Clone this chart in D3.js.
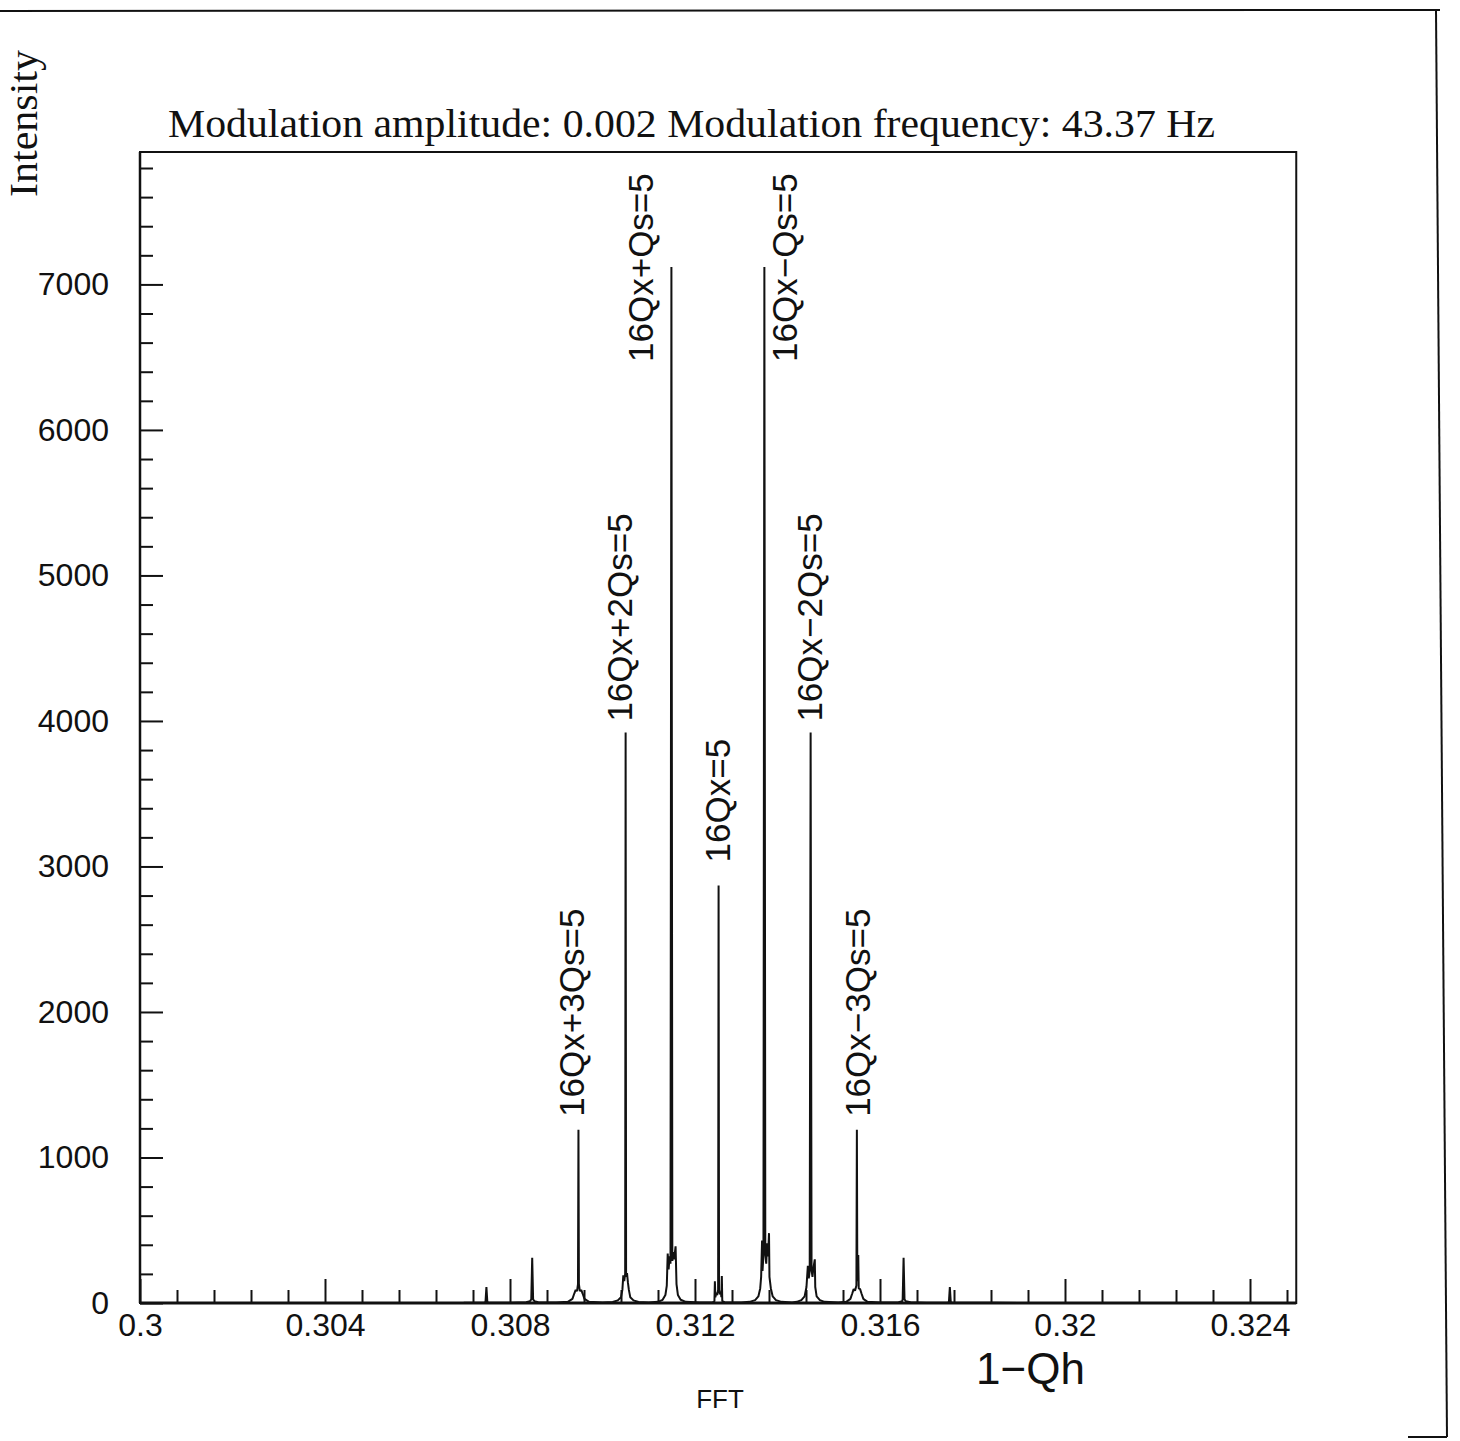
<!DOCTYPE html>
<html>
<head>
<meta charset="utf-8">
<script src="https://cdn.jsdelivr.net/npm/d3@7"></script>
<style>
  html, body { margin: 0; padding: 0; background: #fff; }
  svg { display: block; }
  .tick text { font-family: "Liberation Sans", Arial, sans-serif; font-size: 32px; fill: #111; }
  .tick line { stroke: #111; stroke-width: 2; }
</style>
</head>
<body>
<svg id="chart" width="1460" height="1441"></svg>
<script>
// Tick positions and their printed labels
const xMajorTicks = [0.300, 0.304, 0.308, 0.312, 0.316, 0.320, 0.324];
const xTickLabels = ["0.3", "0.304", "0.308", "0.312", "0.316", "0.32", "0.324"];
const yMajorTicks = [0, 1000, 2000, 3000, 4000, 5000, 6000, 7000];
const yTickLabels = ["0", "1000", "2000", "3000", "4000", "5000", "6000", "7000"];

// FFT spectrum of the horizontal tune, [1-Qh, intensity], split by sideband
const bandFarLeft = [[0.3000, 0], [0.3060, 0], [0.3070, 1]];
const bandP5 = [[0.30744, 2], [0.30747, 6], [0.30749, 110], [0.30751, 6], [0.30754, 2]];
const bandP4 = [[0.3080, 2], [0.30835, 5], [0.30843, 12], [0.30846, 25], [0.30848, 310],
  [0.30850, 25], [0.30853, 12], [0.30861, 5], [0.3090, 3]];
const bandP3 = [[0.30925, 8], [0.30935, 28], [0.30939, 65], [0.30942, 90], [0.30945, 82],
  [0.30947, 130], [0.30948, 1190], [0.30949, 130], [0.30951, 82], [0.30954, 90],
  [0.30957, 65], [0.30961, 28], [0.30971, 8], [0.3100, 3]];
const bandP2 = [[0.31022, 7], [0.31033, 18], [0.31040, 40], [0.31043, 90], [0.31045, 190],
  [0.31047, 150], [0.31049, 200], [0.31050, 3920], [0.31051, 180], [0.31053, 205],
  [0.31055, 140], [0.31057, 90], [0.31060, 40], [0.31067, 18], [0.31078, 7], [0.3110, 4]];
const bandP1 = [[0.31120, 8], [0.31130, 22], [0.31136, 55], [0.31139, 120], [0.31141, 340],
  [0.31143, 230], [0.31145, 320], [0.31147, 270], [0.31149, 7120], [0.31151, 290],
  [0.31153, 350], [0.31155, 300], [0.31158, 390], [0.31160, 130], [0.31163, 55],
  [0.31169, 22], [0.31180, 8], [0.3121, 3]];
const band0 = [[0.31238, 5], [0.31242, 12], [0.31243, 150], [0.31244, 40], [0.31246, 70],
  [0.31248, 55], [0.31250, 90], [0.31251, 2870], [0.31252, 90], [0.31254, 60],
  [0.31256, 75], [0.31257, 40], [0.31258, 185], [0.31259, 12], [0.31264, 5], [0.3130, 4]];
const bandM1 = [[0.31318, 8], [0.31330, 20], [0.31337, 45], [0.31341, 100], [0.31343, 180],
  [0.31345, 430], [0.31346, 220], [0.31348, 330], [0.31350, 7120], [0.31352, 340],
  [0.31354, 270], [0.31356, 410], [0.31358, 320], [0.31360, 480], [0.31361, 180],
  [0.31364, 100], [0.31368, 45], [0.31375, 20], [0.31387, 8], [0.3141, 4]];
const bandM2 = [[0.31420, 8], [0.31430, 20], [0.31437, 45], [0.31441, 110], [0.31444, 255],
  [0.31446, 170], [0.31448, 220], [0.31450, 3920], [0.31452, 230], [0.31454, 180],
  [0.31456, 240], [0.31459, 300], [0.31460, 110], [0.31463, 45], [0.31470, 20],
  [0.31480, 8], [0.3151, 3]];
const bandM3 = [[0.31527, 8], [0.31536, 28], [0.31540, 65], [0.31543, 95], [0.31546, 85],
  [0.31549, 120], [0.31550, 1190], [0.31551, 150], [0.31553, 330], [0.31554, 100],
  [0.31557, 95], [0.31560, 65], [0.31564, 28], [0.31573, 8], [0.3160, 3]];
const bandM4 = [[0.31640, 5], [0.31648, 12], [0.31649, 25], [0.31651, 310], [0.31653, 25],
  [0.31656, 12], [0.31666, 5], [0.3170, 2]];
const bandM5 = [[0.31746, 2], [0.31749, 6], [0.31751, 110], [0.31753, 6], [0.31756, 2]];
const bandFarRight = [[0.3185, 1], [0.3195, 0], [0.3250, 0]];

// Identified resonance lines
const peakLabels = ["16Qx+3Qs=5", "16Qx+2Qs=5", "16Qx+Qs=5", "16Qx=5",
  "16Qx\u2212Qs=5", "16Qx\u22122Qs=5", "16Qx\u22123Qs=5"];
const peakCentres = [0.30948, 0.31050, 0.31149, 0.31251, 0.31350, 0.31450, 0.31550];
const peakHeights = [1190, 3920, 7120, 2870, 7120, 3920, 1190];

const spectrum = [].concat(bandFarLeft, bandP5, bandP4, bandP3, bandP2, bandP1, band0,
  bandM1, bandM2, bandM3, bandM4, bandM5, bandFarRight);

const svg = d3.select("#chart");
const sans = '"Liberation Sans", Arial, sans-serif';
const serif = '"Liberation Serif", "Times New Roman", serif';

// Plot frame
const L = 140, R = 1296.25, T = 152, B = 1303;
const x = d3.scaleLinear().domain([0.3, 0.325]).range([L, R]);
const y = d3.scaleLinear().domain([0, 7910]).range([B, T]);

// Page border
svg.append("line").attr("x1", 0).attr("y1", 11).attr("x2", 1440).attr("y2", 10)
  .attr("stroke", "#111").attr("stroke-width", 2);
svg.append("line").attr("x1", 1436).attr("y1", 10).attr("x2", 1447).attr("y2", 1437)
  .attr("stroke", "#111").attr("stroke-width", 2);
svg.append("line").attr("x1", 1408).attr("y1", 1437).attr("x2", 1447).attr("y2", 1437)
  .attr("stroke", "#111").attr("stroke-width", 2);

// Minor ticks
const xMinor = d3.range(0, 32).map(i => +(0.3 + i * 0.0008).toFixed(4))
  .filter(v => v <= 0.325 && !xMajorTicks.some(m => Math.abs(m - v) < 1e-9));
const yMinor = d3.range(200, 7900, 200).filter(v => v % 1000 !== 0);

svg.append("g").attr("transform", `translate(0,${B})`)
  .call(d3.axisBottom(x).tickValues(xMinor).tickSize(-13).tickSizeOuter(0).tickFormat(""))
  .call(g => g.select(".domain").remove());
svg.append("g").attr("transform", `translate(0,${B})`)
  .call(d3.axisBottom(x).tickValues(xMajorTicks).tickSize(-24).tickSizeOuter(0)
    .tickPadding(10).tickFormat((d, i) => xTickLabels[i]))
  .call(g => g.select(".domain").remove());

svg.append("g").attr("transform", `translate(${L},0)`)
  .call(d3.axisLeft(y).tickValues(yMinor).tickSize(-13).tickSizeOuter(0).tickFormat(""))
  .call(g => g.select(".domain").remove());
svg.append("g").attr("transform", `translate(${L},0)`)
  .call(d3.axisLeft(y).tickValues(yMajorTicks).tickSize(-23).tickSizeOuter(0)
    .tickPadding(31).tickFormat((d, i) => yTickLabels[i]))
  .call(g => g.select(".domain").remove());

// Frame lines
svg.append("rect").attr("x", L).attr("y", T).attr("width", R - L).attr("height", B - T)
  .attr("fill", "none").attr("stroke", "#111").attr("stroke-width", 2);
svg.append("line").attr("x1", L).attr("x2", R).attr("y1", B).attr("y2", B)
  .attr("stroke", "#111").attr("stroke-width", 3);
svg.append("line").attr("x1", L).attr("x2", L).attr("y1", T).attr("y2", B)
  .attr("stroke", "#111").attr("stroke-width", 2.5);

// Spectrum trace
const line = d3.line().x(d => x(d[0])).y(d => y(d[1]));
svg.append("path").datum(spectrum).attr("d", line)
  .attr("fill", "none").attr("stroke", "#111").attr("stroke-width", 2)
  .attr("stroke-linejoin", "bevel");

// Resonance annotations: baseline shift (px) and start offset from the peak top (px)
const labelShift = [[5.5, -13], [6, -11], [-18.5, 95], [11.5, -23], [32.5, 95], [11.5, -11], [13, -13]];
svg.append("g").selectAll("text").data(peakLabels).join("text")
  .attr("transform", (d, i) => {
    const bx = x(peakCentres[i]) + labelShift[i][0];
    const by = y(peakHeights[i]) + labelShift[i][1];
    return `translate(${bx},${by}) rotate(-90)`;
  })
  .attr("font-family", sans).attr("font-size", 35).attr("fill", "#111")
  .text(d => d);

// Titles
svg.append("text").attr("x", 168).attr("y", 137)
  .attr("font-family", serif).attr("font-size", 39).attr("fill", "#111")
  .attr("textLength", 1047).attr("lengthAdjust", "spacingAndGlyphs")
  .text("Modulation amplitude: 0.002 Modulation frequency: 43.37 Hz");

svg.append("text").attr("transform", "translate(37,197) rotate(-90)")
  .attr("font-family", serif).attr("font-size", 39).attr("fill", "#111")
  .attr("textLength", 147).attr("lengthAdjust", "spacingAndGlyphs")
  .text("Intensity");

svg.append("text").attr("x", 976).attr("y", 1384)
  .attr("font-family", sans).attr("font-size", 44).attr("fill", "#111")
  .text("1\u2212Qh");

svg.append("text").attr("x", 720).attr("y", 1408).attr("text-anchor", "middle")
  .attr("font-family", sans).attr("font-size", 26).attr("fill", "#111")
  .text("FFT");
</script>
</body>
</html>
